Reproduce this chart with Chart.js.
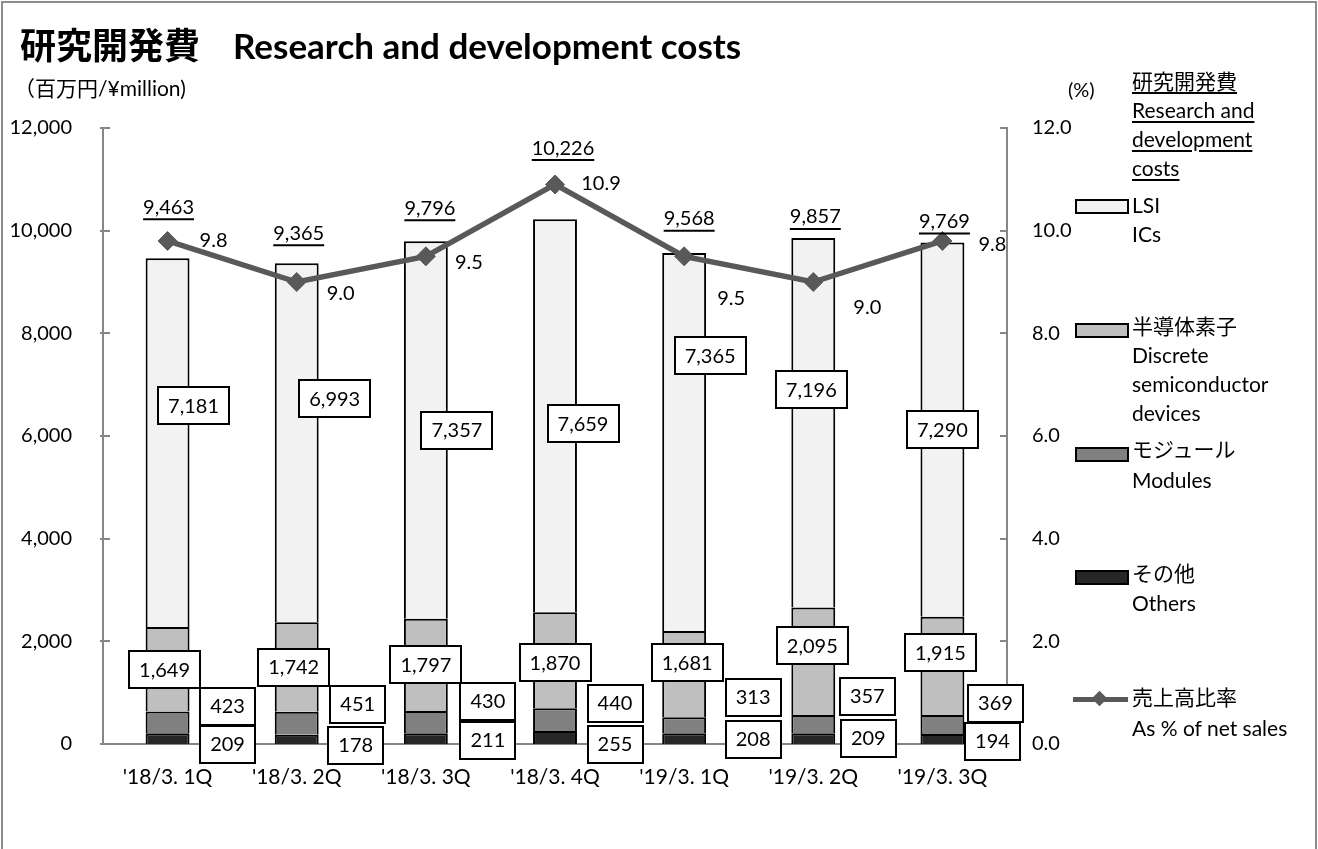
<!DOCTYPE html>
<html><head><meta charset="utf-8">
<script src="https://cdn.jsdelivr.net/npm/chart.js@4.4.0/dist/chart.umd.min.js"></script>
<style>
body{margin:0;background:#fff;width:1318px;height:849px;overflow:hidden;position:relative;font-family:Lato,"Noto Sans CJK JP",sans-serif;color:#000;}
#frame{position:absolute;left:1px;top:1px;width:1312px;height:900px;border:2px solid #8c8c8c;}
canvas{position:absolute;left:0;top:0;}
.t{position:absolute;white-space:nowrap;color:#000;line-height:1;}
.sw{position:absolute;width:50px;height:11px;border:2px solid #000;}
.lg{position:absolute;left:1132px;font-size:21px;white-space:nowrap;line-height:1;}
</style></head>
<body>
<div id="frame"></div>
<canvas id="c" width="1318" height="849"></canvas>
<div class="t" style="left:20px;top:25px;font-size:36px;font-weight:bold;font-family:'Noto Sans CJK JP';">研究開発費</div>
<div class="t" style="left:233px;top:28px;font-size:35px;font-weight:bold;">Research and development costs</div>
<div class="t" style="left:14px;top:77px;font-size:21px;">（百万円/¥million)</div>
<div class="t" style="left:1068px;top:79px;font-size:20px;">(%)</div>
<div id="legend"></div>
<script>
// ---- data ----
const categories = ["'18/3. 1Q", "'18/3. 2Q", "'18/3. 3Q", "'18/3. 4Q", "'19/3. 1Q", "'19/3. 2Q", "'19/3. 3Q"];
const others   = [209, 178, 211, 255, 208, 209, 194];
const modules  = [423, 451, 430, 440, 313, 357, 369];
const discrete = [1649, 1742, 1797, 1870, 1681, 2095, 1915];
const lsi      = [7181, 6993, 7357, 7659, 7365, 7196, 7290];
const totals   = [9463, 9365, 9796, 10226, 9568, 9857, 9769];
const ratio    = [9.8, 9.0, 9.5, 10.9, 9.5, 9.0, 9.8];
const leftTickValues  = [0, 2000, 4000, 6000, 8000, 10000, 12000];
const rightTickValues = [0, 2, 4, 6, 8, 10, 12];
const legendTitle = ["研究開発費", "Research and", "development", "costs"];
const seriesNames = {
  lsi: ["LSI", "ICs"],
  discrete: ["半導体素子", "Discrete", "semiconductor", "devices"],
  modules: ["モジュール", "Modules"],
  others: ["その他", "Others"],
  ratio: ["売上高比率", "As % of net sales"]
};

const fmt = v => v.toLocaleString('en-US');
const FONT = 'Lato, "Noto Sans CJK JP", sans-serif';

// label placement tweaks (pixel offsets), kept apart from the data
const place = {
  total:    {dx:[1,2,4,8,5,2,2], dy:[-51,-30,-33,-71,-34,-21,-21]},
  ratio:    {dx:[46,44,43,46,47,54,50], dy:[0,12,6,-1,42,26,4]},
  lsi:      {dx:[26,38,31,28,26,-2,0], dy:[-37,-44,0,8,-86,-33,0]},
  discrete: {dx:[-3,-3,0,0,3,-1,-2], dy:[0,0,0,2,-12,-16,-13]},
  modules:  {dx:[60,61,62,60,69,54,53], dy:[-38,-40,-43,-41,-47,-48,-41]},
  others:   {dx:[60,59,62,60,69,55,50], dy:[0,1,-4,0,-5,-6,-3]}
};

function boxLabel(ctx, text, cx, cy){
  ctx.font = '20px ' + FONT;
  const tw = ctx.measureText(text).width;
  const w = Math.round(tw + 20), h = 37;
  const x = Math.round(cx - w/2), y = Math.round(cy - h/2);
  ctx.fillStyle = '#fff';
  ctx.fillRect(x, y, w, h);
  ctx.strokeStyle = '#000';
  ctx.lineWidth = 2;
  ctx.strokeRect(x, y, w, h);
  ctx.fillStyle = '#000';
  ctx.textAlign = 'center';
  ctx.textBaseline = 'middle';
  ctx.fillText(text, cx, cy + 1);
}

const tickPlugin = {
  id: 'innerTicks',
  beforeDatasetsDraw(chart){
    const ctx = chart.ctx, ys = chart.scales.y, y2 = chart.scales.y2, a = chart.chartArea;
    ctx.save();
    ctx.strokeStyle = '#868686';
    ctx.lineWidth = 2;
    leftTickValues.forEach(v => {
      const p = Math.round(ys.getPixelForValue(v));
      ctx.beginPath(); ctx.moveTo(a.left - 3, p); ctx.lineTo(a.left + 7, p); ctx.stroke();
    });
    rightTickValues.forEach(v => {
      const p = Math.round(y2.getPixelForValue(v));
      ctx.beginPath(); ctx.moveTo(a.right - 7, p); ctx.lineTo(a.right, p); ctx.stroke();
    });
    ctx.restore();
  }
};

const labelPlugin = {
  id: 'valueLabels',
  afterDatasetsDraw(chart){
    const ctx = chart.ctx, xs = chart.scales.x, ys = chart.scales.y, y2 = chart.scales.y2;
    ctx.save();
    categories.forEach((c, i) => {
      const cx = xs.getPixelForValue(i);
      const lsiMid = others[i] + modules[i] + discrete[i] + lsi[i] / 2;
      boxLabel(ctx, fmt(lsi[i]), cx + place.lsi.dx[i], ys.getPixelForValue(lsiMid) + place.lsi.dy[i]);
      const dMid = others[i] + modules[i] + discrete[i] / 2;
      boxLabel(ctx, fmt(discrete[i]), cx + place.discrete.dx[i], ys.getPixelForValue(dMid) + place.discrete.dy[i]);
      const base = ys.getPixelForValue(0);
      boxLabel(ctx, fmt(modules[i]), cx + place.modules.dx[i], base + place.modules.dy[i]);
      boxLabel(ctx, fmt(others[i]), cx + place.others.dx[i], base + place.others.dy[i]);
      // totals (underlined)
      ctx.font = '20px ' + FONT;
      ctx.fillStyle = '#000';
      ctx.textAlign = 'center';
      ctx.textBaseline = 'middle';
      const tx = cx + place.total.dx[i], ty = ys.getPixelForValue(totals[i]) + place.total.dy[i];
      const t = fmt(totals[i]);
      ctx.fillText(t, tx, ty);
      const tw = ctx.measureText(t).width;
      ctx.strokeStyle = '#000'; ctx.lineWidth = 2;
      ctx.beginPath(); ctx.moveTo(tx - tw/2, ty + 12); ctx.lineTo(tx + tw/2, ty + 12); ctx.stroke();
      // ratio labels
      const rx = cx + place.ratio.dx[i], ry = y2.getPixelForValue(ratio[i]) + place.ratio.dy[i];
      ctx.fillText(ratio[i].toFixed(1), rx, ry);
    });
    ctx.restore();
  }
};

const tickFont = {family: FONT, size: 20};
const barCommon = {type:'bar', yAxisID:'y', stack:'s', borderColor:'#000', borderWidth:2, order:1,
                   barPercentage:0.34, categoryPercentage:1};

new Chart(document.getElementById('c'), {
  data: {
    labels: categories,
    datasets: [
      {type:'line', label: seriesNames.ratio.join(' '), data: ratio, yAxisID:'y2',
       borderColor:'#595959', backgroundColor:'#595959', borderWidth:5.5,
       pointStyle:'rectRot', pointRadius:9.5, pointHoverRadius:9.5,
       pointBackgroundColor:'#595959', pointBorderColor:'#595959', pointBorderWidth:1,
       tension:0, order:0},
      Object.assign({label: seriesNames.others.join(' '), data: others, backgroundColor:'#262626'}, barCommon),
      Object.assign({label: seriesNames.modules.join(' '), data: modules, backgroundColor:'#808080'}, barCommon),
      Object.assign({label: seriesNames.discrete.join(' '), data: discrete, backgroundColor:'#bfbfbf'}, barCommon),
      Object.assign({label: seriesNames.lsi.join(' '), data: lsi, backgroundColor:'#f2f2f2'}, barCommon)
    ]
  },
  options: {
    responsive:false, animation:false,
    layout:{padding:{top:128, left:0, right:0, bottom:0}},
    plugins:{legend:{display:false}, tooltip:{enabled:false}},
    scales:{
      x:{stacked:true, grid:{display:false, drawTicks:false},
         border:{display:true, color:'#868686', width:2},
         ticks:{font:{family: FONT, size: 21}, color:'#000', padding:21, maxRotation:0, autoSkip:false},
         afterFit(s){ s.height = 105; }},
      y:{stacked:true, position:'left', min:0, max:12000,
         grid:{display:false, drawTicks:false},
         border:{display:true, color:'#868686', width:2},
         afterBuildTicks(s){ s.ticks = leftTickValues.map(v => ({value:v})); },
         ticks:{font:tickFont, color:'#000', padding:31, callback:v => fmt(v)},
         afterFit(s){ s.width = 103; }},
      y2:{position:'right', min:0, max:12,
         grid:{display:false, drawTicks:false},
         border:{display:true, color:'#868686', width:2},
         afterBuildTicks(s){ s.ticks = rightTickValues.map(v => ({value:v})); },
         ticks:{font:tickFont, color:'#000', padding:25, callback:v => Number(v).toFixed(1)},
         afterFit(s){ s.width = 311; }}
    }
  },
  plugins:[tickPlugin, labelPlugin]
});

// ---- legend (DOM) ----
const lg = document.getElementById('legend');
function addText(txt, top, extra){
  const d = document.createElement('div');
  d.className = 'lg'; d.textContent = txt; d.style.top = top + 'px';
  if (extra) Object.assign(d.style, extra);
  lg.appendChild(d);
}
legendTitle.forEach((t, k) => addText(t, 70 + k*29, {textDecoration:'underline', textUnderlineOffset:'3px'}));
function addSwatch(top, color){
  const d = document.createElement('div');
  d.className = 'sw'; d.style.left = '1075px'; d.style.top = top + 'px'; d.style.background = color;
  lg.appendChild(d);
}
addSwatch(199, '#f2f2f2');
seriesNames.lsi.forEach((t,k) => addText(t, 194 + k*29));
addSwatch(323, '#bfbfbf');
seriesNames.discrete.forEach((t,k) => addText(t, 315 + k*29));
addSwatch(447, '#808080');
seriesNames.modules.forEach((t,k) => addText(t, 438 + k*31));
addSwatch(570, '#262626');
seriesNames.others.forEach((t,k) => addText(t, 562 + k*30));
const ln = document.createElement('div');
Object.assign(ln.style, {position:'absolute', left:'1073px', top:'697px', width:'55px', height:'5px', background:'#595959'});
lg.appendChild(ln);
const dm = document.createElement('div');
Object.assign(dm.style, {position:'absolute', left:'1094px', top:'693px', width:'11px', height:'11px', background:'#595959', transform:'rotate(45deg)'});
lg.appendChild(dm);
seriesNames.ratio.forEach((t,k) => addText(t, 686 + k*31));
</script>
</body></html>
